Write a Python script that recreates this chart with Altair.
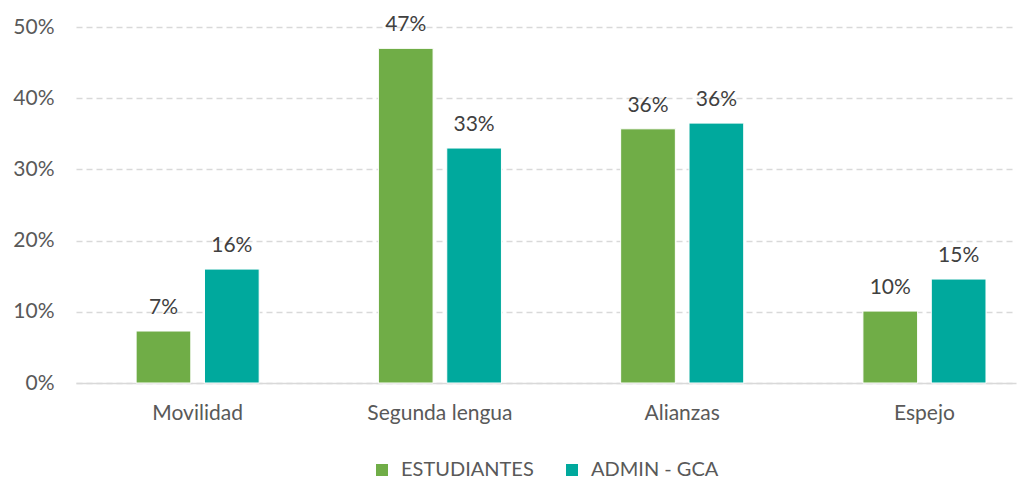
import altair as alt
import pandas as pd

categories = ["Movilidad", "Segunda lengua", "Alianzas", "Espejo"]
series = ["ESTUDIANTES", "ADMIN - GCA"]
estudiantes = [0.073, 0.470, 0.357, 0.101]
admin = [0.160, 0.330, 0.365, 0.146]
labels_est = ["7%", "47%", "36%", "10%"]
labels_adm = ["16%", "33%", "36%", "15%"]

rows = []
for c, v, l in zip(categories, estudiantes, labels_est):
    rows.append({"cat": c, "serie": series[0], "val": v, "lab": l})
for c, v, l in zip(categories, admin, labels_adm):
    rows.append({"cat": c, "serie": series[1], "val": v, "lab": l})
df = pd.DataFrame(rows)

FONT = "Lato"
FS = 21
x = alt.X("cat:N", sort=categories, title=None,
          scale=alt.Scale(paddingInner=0.492, paddingOuter=0.186, align=0.667),
          axis=alt.Axis(labelAngle=0, labelFontSize=FS, labelColor="#595959", labelFont=FONT,
                        labelPadding=19, ticks=False, domainColor="#d9d9d9", domainWidth=1.5,
                        grid=False))
xo = alt.XOffset("serie:N", sort=series, scale=alt.Scale(paddingInner=0.2, paddingOuter=0))
y = alt.Y("val:Q", title=None,
          scale=alt.Scale(domain=[0, 0.5]),
          axis=alt.Axis(format=".0%", values=[0, 0.1, 0.2, 0.3, 0.4, 0.5], labelFontSize=FS,
                        labelColor="#595959", labelFont=FONT, labelPadding=22, ticks=False,
                        domain=False, grid=True, gridColor="#d9d9d9", gridDash=[6, 4],
                        gridWidth=1.5))
color = alt.Color("serie:N", sort=series,
                  scale=alt.Scale(domain=series, range=["#70AD47", "#00A99D"]),
                  legend=alt.Legend(title=None, orient="none", direction="horizontal",
                                    legendX=296, legendY=433, symbolType="square",
                                    symbolSize=144, symbolStrokeWidth=0, labelFontSize=20,
                                    labelColor="#595959", labelFont=FONT, columnPadding=28,
                                    labelOffset=9, padding=0))

bars = alt.Chart(df).mark_bar(stroke="white", strokeWidth=1).encode(x=x, xOffset=xo, y=y, color=color)
text = alt.Chart(df).mark_text(baseline="alphabetic", dy=-17, fontSize=FS, color="#404040", font=FONT).encode(
    x=x, xOffset=xo, y=y, text="lab:N")

chart = (bars + text).properties(
    width=940, height=356,
    autosize=alt.AutoSizeParams(type="none"),
    padding={"left": 68, "top": 19, "right": 7, "bottom": 110},
).configure(background="white").configure_view(strokeWidth=0)

chart.save("out.html", embed_options={"renderer": "svg", "actions": False})
